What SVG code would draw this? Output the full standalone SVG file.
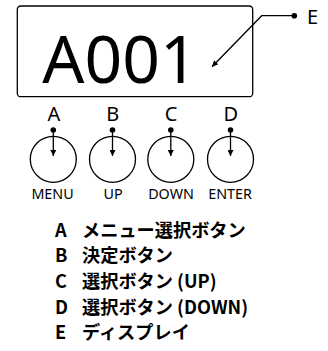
<svg xmlns="http://www.w3.org/2000/svg" width="328" height="351" viewBox="0 0 328 351">
<defs>
<style>
.ln{fill:none;stroke:#000;stroke-width:1.3}
.dot{fill:#000}
.lbl{font-family:"Noto Sans","DejaVu Sans",sans-serif;font-size:20px;fill:#000;text-anchor:middle}
.cap{font-family:"Noto Sans","DejaVu Sans",sans-serif;font-size:14.3px;fill:#000;text-anchor:middle}
.leg{font-family:"Noto Sans CJK JP","Noto Sans",sans-serif;font-size:18.2px;font-weight:bold;fill:#000}
</style>
<marker id="ah" viewBox="0 0 10 10" refX="10" refY="5" markerWidth="7" markerHeight="6" markerUnits="userSpaceOnUse" orient="auto">
<path d="M0,0 L10,5 L0,10 z" fill="#000"/>
</marker>
</defs>
<g id="display">
<rect x="17.3" y="6" width="235.4" height="90.7" rx="3.5" class="ln"/>
<text x="120" y="83" font-family="Noto Sans, DejaVu Sans, sans-serif" font-size="66" text-anchor="middle" fill="#000">A001</text>
</g>
<g id="label-E">
<text x="307" y="23.5" class="lbl" style="text-anchor:start">E</text>
</g>
<g id="btn-A">
<text x="53.8" y="121" class="lbl">A</text>
<circle cx="53.3" cy="159.3" r="23" class="ln"/>
<text x="52.5" y="199.3" class="cap">MENU</text>
</g>
<g id="btn-B">
<text x="112.8" y="121" class="lbl">B</text>
<circle cx="112.5" cy="159.3" r="23" class="ln"/>
<text x="113" y="199.3" class="cap">UP</text>
</g>
<g id="btn-C">
<text x="171" y="121" class="lbl">C</text>
<circle cx="170.8" cy="159.3" r="23" class="ln"/>
<text x="171" y="199.3" class="cap">DOWN</text>
</g>
<g id="btn-D">
<text x="230.8" y="121" class="lbl">D</text>
<circle cx="230.5" cy="159.3" r="23" class="ln"/>
<text x="230" y="199.3" class="cap">ENTER</text>
</g>
<g id="connectors">
<circle cx="294.3" cy="15.7" r="2.8" class="dot"/>
<polyline points="294.3,15.7 261.7,15.7 212,66.7" class="ln" marker-end="url(#ah)"/>
<circle cx="53.3" cy="130" r="2.8" class="dot"/>
<line x1="53.3" y1="130" x2="53.3" y2="156" class="ln" marker-end="url(#ah)"/>
<circle cx="112.5" cy="130" r="2.8" class="dot"/>
<line x1="112.5" y1="130" x2="112.5" y2="156" class="ln" marker-end="url(#ah)"/>
<circle cx="170.8" cy="130" r="2.8" class="dot"/>
<line x1="170.8" y1="130" x2="170.8" y2="156" class="ln" marker-end="url(#ah)"/>
<circle cx="230.5" cy="130" r="2.8" class="dot"/>
<line x1="230.5" y1="130" x2="230.5" y2="156" class="ln" marker-end="url(#ah)"/>
</g>
<g id="legend">
<text x="55" y="236.7" class="leg">A</text><text x="82" y="236.7" class="leg">メニュー選択ボタン</text>
<text x="55" y="262.3" class="leg">B</text><text x="82" y="262.3" class="leg">決定ボタン</text>
<text x="55" y="288" class="leg">C</text><text x="82" y="288" class="leg">選択ボタン (UP)</text>
<text x="55" y="313.5" class="leg">D</text><text x="82" y="313.5" class="leg">選択ボタン (DOWN)</text>
<text x="55" y="339" class="leg">E</text><text x="82" y="339" class="leg">ディスプレイ</text>
</g>
</svg>
